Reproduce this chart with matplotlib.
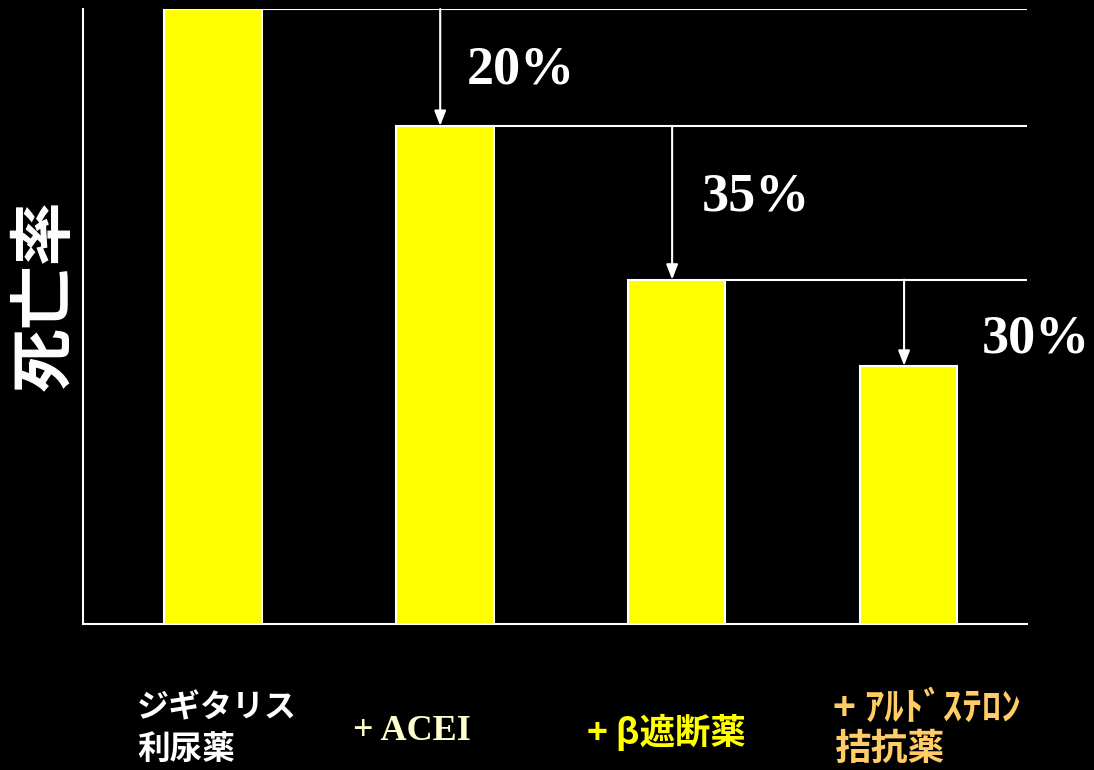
import matplotlib.pyplot as plt

# 死亡率（相対値）と各段階での減少率
steps = ["ジギタリス\n利尿薬", "+ ACEI", "+ β遮断薬", "+ ｱﾙﾄﾞｽﾃﾛﾝ\n拮抗薬"]
mortality = [100, 81, 56, 42]
reductions = ["20%", "35%", "30%"]

cjk = ["Noto Sans CJK JP", "DejaVu Sans"]
serif = ["Liberation Serif", "DejaVu Serif"]

fig = plt.figure(figsize=(10.94, 7.70), dpi=100, facecolor="black")
ax = fig.add_axes([83 / 1094, 146 / 770, 944 / 1094, 615 / 770])
ax.set_facecolor("black")

x = list(range(len(mortality)))
width = 0.42
ax.bar(x, mortality, width=width, color="#ffff00", edgecolor="white", linewidth=1.5, zorder=3)

ax.set_xlim(-0.56, 3.51)
ax.set_ylim(0, 100)

# 前段階の高さから右端までの水平線と、次の棒への矢印
for i in range(len(mortality) - 1):
    ax.hlines(mortality[i], i + width / 2, 3.51, color="white", linewidth=1.5, zorder=2)
    ax.annotate("", xy=(i + 1 - 0.02, mortality[i + 1]), xytext=(i + 1 - 0.02, mortality[i]),
                arrowprops=dict(arrowstyle="-|>,head_length=0.9,head_width=0.35",
                                color="white", lw=1.5, shrinkA=0, shrinkB=0), zorder=4)

label_pos = [(1.33, 90), (2.34, 69.4), (3.55, 46.2)]
for (lx, ly), txt in zip(label_pos, reductions):
    ax.text(lx, ly, txt, color="white", fontsize=39, fontweight="bold", family=serif,
            ha="center", va="center", clip_on=False)

for side in ["top", "right"]:
    ax.spines[side].set_visible(False)
for side in ["left", "bottom"]:
    ax.spines[side].set_color("white")
    ax.spines[side].set_linewidth(1.5)
ax.set_xticks([])
ax.set_yticks([])

fig.text(45 / 1094, 1 - 295 / 770, "死亡率", rotation=90, color="white", fontsize=46,
         fontweight="bold", family=cjk, ha="center", va="center")

# 横軸の各段階ラベル
def px(xp, yp):
    return xp / 1094, 1 - yp / 770

line1, line2 = steps[0].split("\n")
fig.text(*px(137, 708), line1, color="white", fontsize=23, fontweight="bold", family=cjk, va="center")
fig.text(*px(137, 749), line2, color="white", fontsize=23.5, fontweight="bold", family=cjk, va="center")
fig.text(*px(353, 732), steps[1], color="#ffffcc", fontsize=26, fontweight="bold", family=serif, va="center")
fig.text(*px(587, 732), steps[2], color="#ffff00", fontsize=25.5, fontweight="bold", family=cjk, va="center")
line1, line2 = steps[3].split("\n")
fig.text(*px(833, 708), line1, color="#ffcc66", fontsize=28, fontweight="bold", family=cjk, va="center")
fig.text(*px(835, 749), line2, color="#ffcc66", fontsize=26.5, fontweight="bold", family=cjk, va="center")

fig.savefig("out.png", dpi=100, facecolor="black")
